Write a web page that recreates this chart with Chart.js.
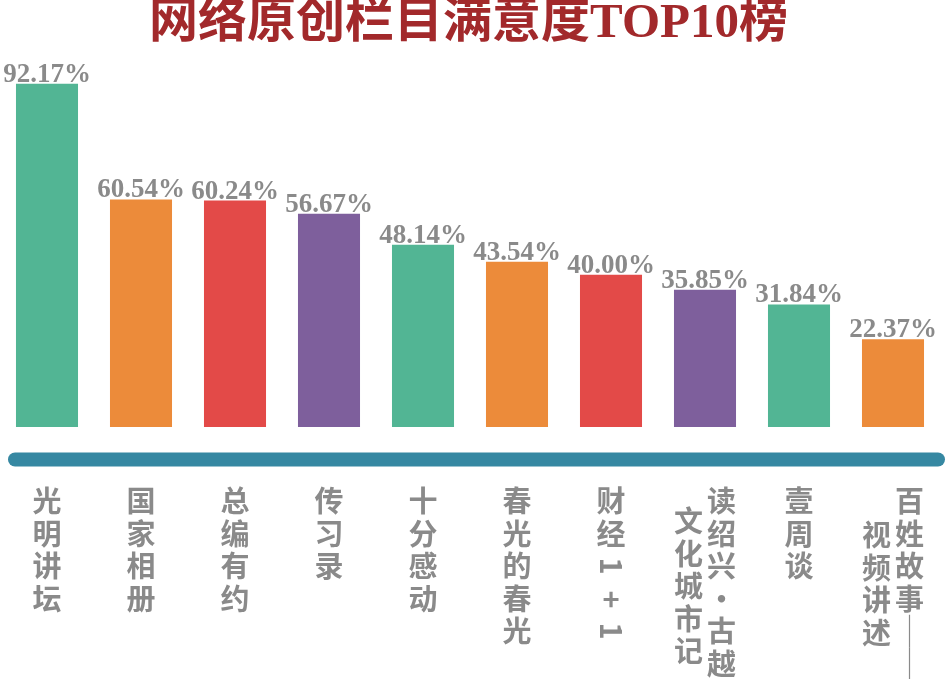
<!DOCTYPE html>
<html lang="zh">
<head>
    <meta charset="UTF-8">
    <title>网络原创栏目满意度TOP10榜</title>
    <script src="https://cdn.jsdelivr.net/npm/chart.js"></script>
    <style>
        body {
            margin: 0;
            padding: 0;
            background-color: #fff;
        }
        .chart-container {
            width: 946px;
            height: 679px;
            position: relative;
        }
    </style>
</head>
<body>
    <div class="chart-container">
        <canvas id="topChart"></canvas>
    </div>

    <script>
        // Datos: columnas de texto vertical por categoría (la primera columna va a la derecha)
        const categories = [
            ['光明讲坛'],
            ['国家相册'],
            ['总编有约'],
            ['传习录'],
            ['十分感动'],
            ['春光的春光'],
            ['财经1+1'],
            ['读绍兴·古越', '文化城市记'],
            ['壹周谈'],
            ['百姓故事——', '视频讲述']
        ];
        const satisfaction = [92.17, 60.54, 60.24, 56.67, 48.14, 43.54, 40.00, 35.85, 31.84, 22.37];
        const barColors = ['#52b594', '#ec8b3a', '#e34a48', '#7e5f9c'];

        const labels = categories.map(c => c.join(''));

        const Y_MIN = -1.64;
        const Y_MAX = 98.66;

        const serif = '"Liberation Serif", "Noto Sans CJK SC", serif';
        const cjk = '"Noto Sans CJK SC", sans-serif';

        // Decoración: barra azul, porcentajes y etiquetas verticales
        const decorPlugin = {
            id: 'decor',
            afterDatasetsDraw(chart) {
                const ctx = chart.ctx;
                const area = chart.chartArea;
                const meta = chart.getDatasetMeta(0);
                const xScale = chart.scales.x;

                // barra inferior
                ctx.save();
                ctx.strokeStyle = '#3688a2';
                ctx.lineWidth = 14;
                ctx.lineCap = 'round';
                ctx.beginPath();
                ctx.moveTo(15, area.bottom + 32.5);
                ctx.lineTo(chart.width - 8, area.bottom + 32.5);
                ctx.stroke();
                ctx.restore();

                // porcentajes
                ctx.save();
                ctx.font = 'bold 27px ' + serif;
                ctx.fillStyle = '#8a8a8a';
                ctx.textAlign = 'center';
                ctx.textBaseline = 'alphabetic';
                meta.data.forEach((bar, i) => {
                    ctx.fillText(satisfaction[i].toFixed(2) + '%', bar.x, bar.y - 2);
                });
                ctx.restore();

                // etiquetas verticales
                const pitch = 32.5;
                const colGap = 33;
                const indent = { 7: 20, 9: 34 };
                ctx.save();
                ctx.font = 'bold 29px ' + cjk;
                ctx.fillStyle = '#8a8a8a';
                ctx.textAlign = 'center';
                ctx.textBaseline = 'middle';
                categories.forEach((cols, i) => {
                    const cx = xScale.getPixelForValue(i);
                    const n = cols.length;
                    cols.forEach((col, k) => {
                        // columna 0 a la derecha
                        const x = cx + ((n - 1) / 2 - k) * colGap;
                        let y = area.bottom + 74 + (k > 0 ? (indent[i] || 0) : 0);
                        for (const ch of col) {
                            if (/[0-9A-Za-z]/.test(ch) || ch === '—') {
                                ctx.save();
                                ctx.translate(x, y);
                                ctx.rotate(Math.PI / 2);
                                if (ch === '—') {
                                    ctx.fillRect(-pitch / 2, -0.6, pitch, 1.2);
                                } else {
                                    ctx.fillText(ch, 0, 0);
                                }
                                ctx.restore();
                            } else {
                                ctx.fillText(ch, x, y);
                            }
                            y += pitch;
                        }
                    });
                });
                ctx.restore();
            }
        };

        const data = {
            labels: labels,
            datasets: [{
                label: '满意度',
                data: satisfaction,
                backgroundColor: satisfaction.map((v, i) => barColors[i % barColors.length]),
                borderWidth: 0,
                base: Y_MIN,
                barPercentage: 0.66,
                categoryPercentage: 1.0
            }]
        };

        const config = {
            type: 'bar',
            data: data,
            plugins: [decorPlugin],
            options: {
                responsive: true,
                maintainAspectRatio: false,
                animation: false,
                layout: {
                    padding: { left: -3, right: 6, top: 0, bottom: 252 }
                },
                plugins: {
                    legend: { display: false },
                    tooltip: { enabled: false },
                    title: {
                        display: true,
                        text: '网络原创栏目满意度TOP10榜',
                        color: '#a2292b',
                        font: { family: serif, size: 49, weight: 'bold', lineHeight: 1 },
                        padding: { top: 0, bottom: 11 }
                    }
                },
                scales: {
                    x: {
                        display: false,
                        grid: { display: false }
                    },
                    y: {
                        display: false,
                        min: Y_MIN,
                        max: Y_MAX,
                        grid: { display: false }
                    }
                }
            }
        };

        var topChart = new Chart(document.getElementById('topChart'), config);
    </script>
</body>
</html>
